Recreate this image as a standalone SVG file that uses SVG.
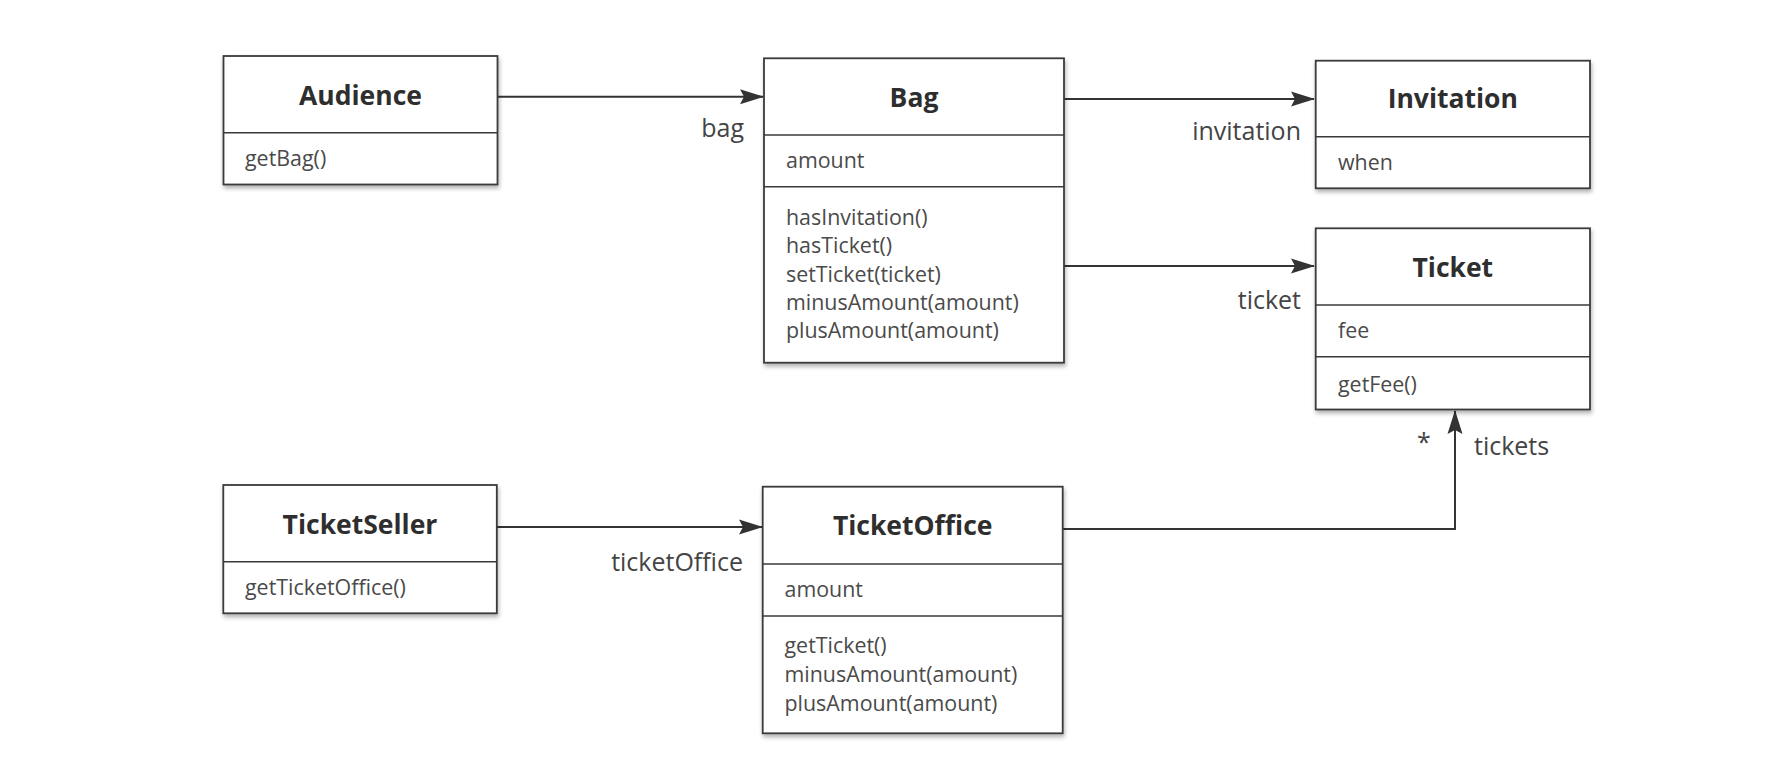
<svg xmlns="http://www.w3.org/2000/svg" width="1792" height="760" viewBox="0 0 1792 760">
  <style>
    .box { fill: #ffffff; stroke: #3a3a3a; stroke-width: 1.8; filter: url(#shadow); }
    .div { stroke: #3a3a3a; stroke-width: 1.6; fill: none; }
    .title { font-family: "Open Sans", "Noto Sans", sans-serif; font-weight: 700; font-size: 26.5px; fill: #2e2e2e; text-anchor: middle; }
    .member { font-family: "Open Sans", "Noto Sans", sans-serif; font-size: 21.4px; fill: #4a4a4a; }
    .label { font-family: "Open Sans", "Noto Sans", sans-serif; font-size: 25px; fill: #444444; }
    .conn { stroke: #333333; stroke-width: 2; fill: none; marker-end: url(#arrow); }
  </style>
  <defs>
    <filter id="shadow" x="-5%" y="-5%" width="110%" height="115%">
      <feDropShadow dx="1" dy="3" stdDeviation="2" flood-color="#000000" flood-opacity="0.3"/>
    </filter>
    <marker id="arrow" viewBox="0 0 24 16" refX="23" refY="8" markerWidth="24" markerHeight="16" markerUnits="userSpaceOnUse" orient="auto">
      <path d="M0,0.5 L24,8 L0,15.5 L4,8 z" fill="#333333"/>
    </marker>
  </defs>
  <rect width="1792" height="760" fill="#ffffff"/>

  <!-- associations -->
  <g id="connectors">
    <path class="conn" d="M498,96.7 L763,96.7"/>
    <path class="conn" d="M1064,99 L1314,99"/>
    <path class="conn" d="M1064,266 L1314,266"/>
    <path class="conn" d="M497,527 L762,527"/>
    <path class="conn" d="M1063,529 L1455,529 L1455,411"/>
    <text class="label" x="744" y="137" text-anchor="end">bag</text>
    <text class="label" x="1301" y="140" text-anchor="end">invitation</text>
    <text class="label" x="1301" y="309" text-anchor="end">ticket</text>
    <text class="label" x="743" y="571" text-anchor="end">ticketOffice</text>
    <text class="label" x="1424" y="451" text-anchor="middle" font-size="15">*</text>
    <text class="label" x="1474" y="455">tickets</text>
  </g>

  <g id="audience">
    <rect class="box" x="223.5" y="56" width="274" height="128.5"/>
    <line class="div" x1="223.5" y1="132.7" x2="497.5" y2="132.7"/>
    <text class="title" x="360.5" y="105">Audience</text>
    <text class="member" x="245" y="166">getBag()</text>
  </g>

  <g id="bag">
    <rect class="box" x="764" y="58.3" width="300" height="304.4"/>
    <line class="div" x1="764" y1="135" x2="1064" y2="135"/>
    <line class="div" x1="764" y1="186.7" x2="1064" y2="186.7"/>
    <text class="title" x="914" y="106.7">Bag</text>
    <text class="member" x="786" y="168">amount</text>
    <text class="member" x="786" y="225">hasInvitation()</text>
    <text class="member" x="786" y="253.3">hasTicket()</text>
    <text class="member" x="786" y="281.6">setTicket(ticket)</text>
    <text class="member" x="786" y="309.9">minusAmount(amount)</text>
    <text class="member" x="786" y="338.2">plusAmount(amount)</text>
  </g>

  <g id="invitation">
    <rect class="box" x="1315.7" y="60.7" width="274.3" height="127.6"/>
    <line class="div" x1="1315.7" y1="136.7" x2="1590" y2="136.7"/>
    <text class="title" x="1452.8" y="108.3">Invitation</text>
    <text class="member" x="1338" y="170">when</text>
  </g>

  <g id="ticket">
    <rect class="box" x="1315.7" y="228.3" width="274.3" height="181.2"/>
    <line class="div" x1="1315.7" y1="305" x2="1590" y2="305"/>
    <line class="div" x1="1315.7" y1="356.7" x2="1590" y2="356.7"/>
    <text class="title" x="1452.8" y="276.7">Ticket</text>
    <text class="member" x="1338" y="338">fee</text>
    <text class="member" x="1338" y="391.7">getFee()</text>
  </g>

  <g id="ticketSeller">
    <rect class="box" x="223.3" y="485" width="273.5" height="128.3"/>
    <line class="div" x1="223.3" y1="561.7" x2="496.8" y2="561.7"/>
    <text class="title" x="360" y="534">TicketSeller</text>
    <text class="member" x="245" y="595">getTicketOffice()</text>
  </g>

  <g id="ticketOffice">
    <rect class="box" x="762.7" y="486.7" width="300" height="246.6"/>
    <line class="div" x1="762.7" y1="564" x2="1062.7" y2="564"/>
    <line class="div" x1="762.7" y1="616" x2="1062.7" y2="616"/>
    <text class="title" x="912.7" y="535">TicketOffice</text>
    <text class="member" x="784.5" y="596.7">amount</text>
    <text class="member" x="784.5" y="653.3">getTicket()</text>
    <text class="member" x="784.5" y="682">minusAmount(amount)</text>
    <text class="member" x="784.5" y="710.7">plusAmount(amount)</text>
  </g>
</svg>
